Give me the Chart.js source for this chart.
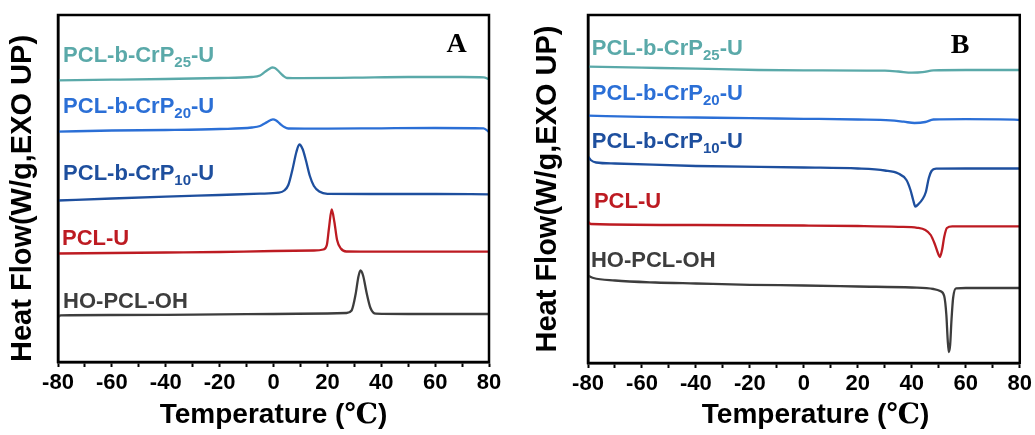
<!DOCTYPE html>
<html>
<head>
<meta charset="utf-8">
<script src="https://cdn.jsdelivr.net/npm/chart.js@4.4.1/dist/chart.umd.min.js"></script>
<style>
  html, body { margin: 0; padding: 0; background: #fff; }
  #wrap { position: relative; width: 1035px; height: 435px; }
  canvas { position: absolute; top: 0; }
  #chartA { left: 0; }
  #chartB { left: 518px; }
</style>
</head>
<body>
<div id="wrap">
  <canvas id="chartA" width="518" height="435"></canvas>
  <canvas id="chartB" width="517" height="435"></canvas>
</div>
<script>
// DSC curves, temperature in °C, heat flow in W/g (curves stacked with offsets)

// panel A
var tA25 = [-80, -60, -40, -20, -8, -5, -3, -1, -0.5, 0.5, 2, 3.5, 5, 10, 30, 50, 70, 78, 80];
var hA25 = [28.17, 28.23, 28.3, 28.4, 28.5, 28.65, 29.05, 29.4, 29.47, 29.4, 29.05, 28.65, 28.4, 28.38, 28.43, 28.5, 28.5, 28.47, 28.27];
var tA20 = [-80, -60, -40, -20, -8, -5, -3, -1, -0.2, 1, 2.5, 4, 5.5, 20, 40, 60, 78, 80];
var hA20 = [23.03, 23.15, 23.2, 23.3, 23.45, 23.6, 23.9, 24.2, 24.27, 24.15, 23.8, 23.5, 23.35, 23.33, 23.37, 23.4, 23.37, 23.0];
var tA10 = [-80, -60, -40, -20, -5, 2, 4, 5.5, 7, 8.5, 9.6, 10.8, 12, 13.5, 15, 17, 20, 40, 60, 80];
var hA10 = [16.15, 16.35, 16.53, 16.7, 16.83, 16.93, 17.15, 17.7, 19.2, 21.0, 21.75, 21.3, 20.2, 18.6, 17.6, 17.05, 16.82, 16.8, 16.8, 16.77];
var tAU = [-80, -60, -40, -20, 0, 15, 18.5, 19.8, 20.6, 21.6, 22.6, 23.6, 25, 27, 40, 80];
var hAU = [10.85, 10.9, 10.95, 11.0, 11.1, 11.15, 11.25, 11.7, 13.4, 15.25, 14.0, 12.2, 11.35, 11.05, 11.03, 11.03];
var tAOH = [-80, -79, -60, -40, -20, 0, 20, 27, 29, 30.5, 31.5, 32.3, 33.3, 34.5, 36, 38, 50, 80];
var hAOH = [4.5, 4.67, 4.7, 4.72, 4.77, 4.8, 4.85, 4.9, 5.15, 6.8, 8.5, 9.15, 8.6, 7.0, 5.4, 4.83, 4.8, 4.8];

// panel B
var tB25 = [-80, -60, -40, -17, 0, 30, 35, 40, 44, 48, 60, 80];
var hB25 = [29.63, 29.53, 29.43, 29.3, 29.27, 29.23, 29.15, 29.03, 29.08, 29.27, 29.3, 29.3];
var tB20 = [-80, -60, -40, -20, 0, 20, 32, 37, 41, 45, 48, 60, 78, 80];
var hB20 = [24.73, 24.62, 24.55, 24.48, 24.42, 24.35, 24.27, 24.13, 24.0, 24.1, 24.35, 24.38, 24.34, 24.3];
var tB10 = [-80, -79, -77, -70, -40, 0, 20, 30, 35, 38, 39.5, 40.5, 41.3, 42.5, 44, 45.2, 46.3, 47.3, 49, 60, 80];
var hB10 = [20.65, 20.3, 20.05, 19.95, 19.7, 19.55, 19.45, 19.25, 18.95, 18.3, 17.3, 16.3, 15.65, 15.9, 16.4, 17.1, 18.5, 19.2, 19.43, 19.45, 19.45];
var tBU = [-80, -79, -40, 0, 20, 35, 42, 45, 47, 48.5, 49.8, 50.4, 51.2, 52, 53, 55, 80];
var hBU = [14.15, 13.9, 13.8, 13.75, 13.7, 13.62, 13.52, 13.3, 12.8, 11.9, 10.9, 10.6, 11.3, 12.6, 13.5, 13.67, 13.67];
var tBOH = [-80, -78, -70, -55, -40, -20, 0, 20, 40, 48, 50.5, 52, 52.8, 53.3, 53.7, 54.2, 54.7, 55.3, 56.4, 60, 80];
var hBOH = [8.75, 8.5, 8.25, 8.05, 7.95, 7.82, 7.75, 7.65, 7.55, 7.4, 7.2, 6.7, 4.8, 2.3, 1.1, 1.8, 4.3, 6.5, 7.47, 7.5, 7.5];

var xTicks = [-80, -60, -40, -20, 0, 20, 40, 60, 80];

var teal = '#5aa9a9', blue = '#2b6fd6', navy = '#1e4f9e', red = '#bd1b22', grey = '#3d3d3d';
var fam = "'Liberation Sans', Arial, sans-serif";
Chart.defaults.font.family = fam;

function pts(t, h) {
  return t.map(function (v, i) { return { x: v, y: h[i] }; });
}

function series(label, t, h, color) {
  return {
    label: label, data: pts(t, h), borderColor: color, borderWidth: 2.3,
    pointRadius: 0, fill: false, cubicInterpolationMode: 'monotone'
  };
}

// frame, curve names and panel letter
var panelText = {
  id: 'panelText',
  afterDatasetsDraw: function (chart, args, opts) {
    var ctx = chart.ctx, xs = chart.scales.x, ys = chart.scales.y, a = chart.chartArea;
    ctx.save();
    ctx.strokeStyle = '#000';
    ctx.lineWidth = 2.5;
    ctx.strokeRect(a.left, a.top, a.right - a.left, a.bottom - a.top);
    ctx.textAlign = 'left';
    ctx.textBaseline = 'alphabetic';
    opts.labels.forEach(function (l) {
      var x = xs.getPixelForValue(l.x), y = ys.getPixelForValue(l.y);
      ctx.fillStyle = l.color;
      ctx.font = 'bold 22px ' + fam;
      ctx.fillText(l.main, x, y);
      if (l.sub) {
        x += ctx.measureText(l.main).width;
        ctx.font = 'bold 15px ' + fam;
        ctx.fillText(l.sub, x, y + 5);
        x += ctx.measureText(l.sub).width;
        ctx.font = 'bold 22px ' + fam;
        ctx.fillText(l.tail, x, y);
      }
    });
    ctx.fillStyle = '#000';
    ctx.textAlign = 'center';
    ctx.font = "bold 28px 'Liberation Serif', 'Times New Roman', serif";
    ctx.fillText(opts.letter.text, xs.getPixelForValue(opts.letter.x), ys.getPixelForValue(opts.letter.y));
    ctx.restore();
  }
};

function makeChart(id, datasets, cfg) {
  return new Chart(document.getElementById(id), {
    type: 'line',
    data: { datasets: datasets },
    options: {
      responsive: false,
      animation: false,
      layout: { padding: { left: 0, right: cfg.padRight, top: 15, bottom: 0 } },
      plugins: {
        legend: { display: false },
        tooltip: { enabled: false },
        panelText: { labels: cfg.labels, letter: cfg.letter }
      },
      scales: {
        x: {
          type: 'linear', min: -80, max: 80,
          afterFit: function (s) { s.height = cfg.xHeight; },
          border: { display: true, color: '#000', width: 2.5 },
          grid: { display: true, drawOnChartArea: false, drawTicks: true, tickLength: 5, tickWidth: 2, tickColor: '#000' },
          ticks: {
            stepSize: 10, autoSkip: false, maxRotation: 0, color: '#000', padding: 3,
            font: { size: 22, weight: 'bold' },
            callback: function (v) { return xTicks.indexOf(v) >= 0 ? String(v) : ''; }
          },
          title: {
            display: true, text: cfg.xTitle, color: '#000',
            font: { family: "'Liberation Sans', 'Liberation Serif', 'DejaVu Serif', serif", size: 28, weight: 'bold', lineHeight: 1 },
            padding: { top: 0, bottom: 6 }
          }
        },
        y: {
          min: 0, max: cfg.yMax,
          afterFit: function (s) { s.width = cfg.yWidth; },
          border: { display: true, color: '#000', width: 2.5 },
          grid: { display: false },
          ticks: { display: false },
          title: {
            display: true, text: 'Heat Flow(W/g,EXO UP)', align: cfg.yAlign, color: '#000',
            font: { size: 29, weight: 'bold', lineHeight: 1 },
            padding: { top: cfg.yTitlePad, bottom: 0 }
          }
        }
      }
    },
    plugins: [panelText]
  });
}

makeChart('chartA', [
  series('PCL-b-CrP25-U', tA25, hA25, teal),
  series('PCL-b-CrP20-U', tA20, hA20, blue),
  series('PCL-b-CrP10-U', tA10, hA10, navy),
  series('PCL-U', tAU, hAU, red),
  series('HO-PCL-OH', tAOH, hAOH, grey)
], {
  padRight: 29, xHeight: 73, yWidth: 58, yMax: 34.7, yAlign: 'start', yTitlePad: 8.5,
  xTitle: 'Temperature (℃)',
  labels: [
    { main: 'PCL-b-CrP', sub: '25', tail: '-U', color: teal, x: -78.1, y: 30.05 },
    { main: 'PCL-b-CrP', sub: '20', tail: '-U', color: blue, x: -78.1, y: 24.87 },
    { main: 'PCL-b-CrP', sub: '10', tail: '-U', color: navy, x: -78.1, y: 18.2 },
    { main: 'PCL-U', color: red, x: -78.5, y: 11.7 },
    { main: 'HO-PCL-OH', color: grey, x: -78.1, y: 5.4 }
  ],
  letter: { text: 'A', x: 68, y: 31.0 }
});

makeChart('chartB', [
  series('PCL-b-CrP25-U', tB25, hB25, teal),
  series('PCL-b-CrP20-U', tB20, hB20, blue),
  series('PCL-b-CrP10-U', tB10, hB10, navy),
  series('PCL-U', tBU, hBU, red),
  series('HO-PCL-OH', tBOH, hBOH, grey)
], {
  padRight: 13, xHeight: 72, yWidth: 70, yMax: 34.8, yAlign: 'center', yTitlePad: 15.5,
  xTitle: '   Temperature (℃)',
  labels: [
    { main: 'PCL-b-CrP', sub: '25', tail: '-U', color: teal, x: -78.6, y: 30.8 },
    { main: 'PCL-b-CrP', sub: '20', tail: '-U', color: blue, x: -78.6, y: 26.3 },
    { main: 'PCL-b-CrP', sub: '10', tail: '-U', color: navy, x: -78.6, y: 21.47 },
    { main: 'PCL-U', color: red, x: -77.8, y: 15.47 },
    { main: 'HO-PCL-OH', color: grey, x: -78.9, y: 9.63 }
  ],
  letter: { text: 'B', x: 57.9, y: 31.0 }
});
</script>
</body>
</html>
